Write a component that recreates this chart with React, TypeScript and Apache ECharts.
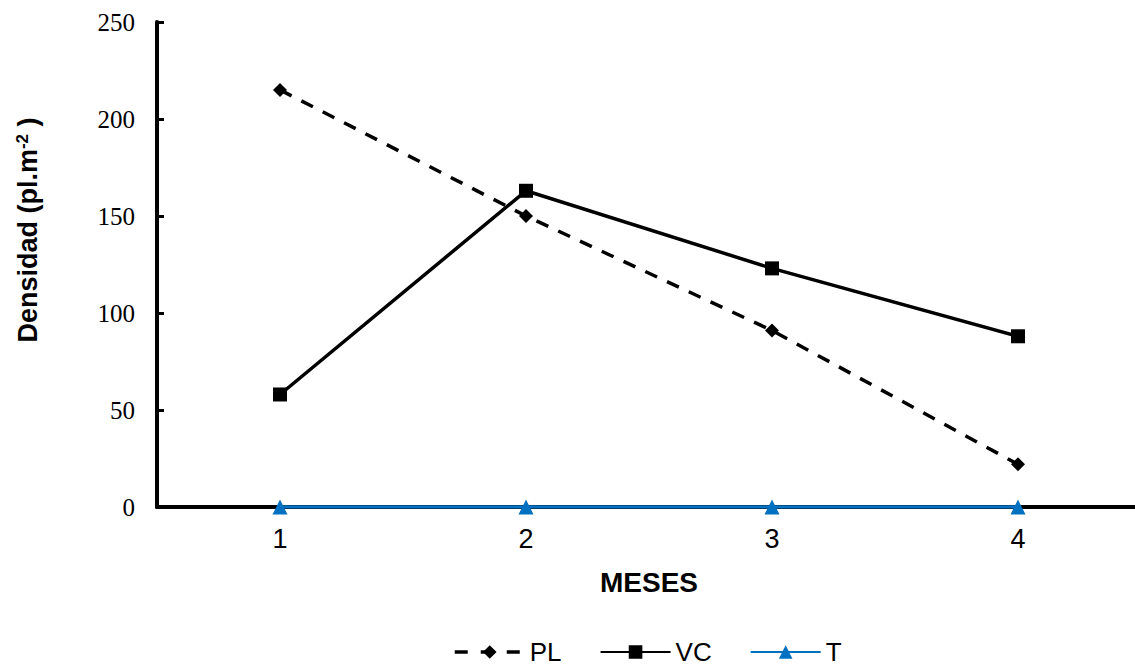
import React, { useEffect, useRef } from "react";
import * as echarts from "echarts";

const categories = ["1", "2", "3", "4"];
const plValues = [215, 150, 91, 22];
const vcValues = [58, 163, 123, 88];
const tValues = [0, 0, 0, 0];
const yTicks = { min: 0, max: 250, interval: 50 };

export default function App() {
  const ref = useRef<HTMLDivElement>(null);
  useEffect(() => {
    if (!ref.current) return;
    const chart = echarts.init(ref.current, null, { renderer: "svg" });
    chart.setOption({
      animation: false,
      backgroundColor: "#ffffff",
      grid: { left: 157, top: 22, bottom: 161, width: 984, containLabel: false, outerBoundsMode: "none" },
      legend: {
        top: 639,
        left: 453,
        padding: 0,
        itemWidth: 70,
        itemHeight: 17,
        itemGap: 38,
        textStyle: { fontFamily: "Liberation Sans, Arial", fontSize: 26, color: "#000" },
        data: [
          { name: "PL", lineStyle: { type: [13, 13], width: 3.5 } },
          { name: "VC" },
          { name: "T" },
        ],
      },
      graphic: [
        {
          type: "text",
          x: 28,
          y: 230,
          rotation: Math.PI / 2,
          style: {
            text: "{a|Densidad (pl.m}{s|-2}{a| )}",
            align: "center",
            verticalAlign: "middle",
            rich: {
              a: { fontFamily: "Liberation Sans, Arial", fontSize: 27, fontWeight: "bold", fill: "#000", color: "#000" },
              s: { fontFamily: "Liberation Sans, Arial", fontSize: 17, fontWeight: "bold", fill: "#000", color: "#000", verticalAlign: "top", padding: [0, 0, 12, 0] },
            },
          },
        },
      ],
      xAxis: {
        type: "category",
        data: categories,
        boundaryGap: true,
        name: "MESES",
        nameLocation: "middle",
        nameGap: 61,
        nameTextStyle: { fontFamily: "Liberation Sans, Arial", fontSize: 28, fontWeight: "bold", color: "#000" },
        axisLine: { lineStyle: { color: "#000", width: 4 } },
        axisTick: { inside: true, length: 8, lineStyle: { color: "#000", width: 3 } },
        axisLabel: { margin: 18, fontFamily: "Liberation Sans, Arial", fontSize: 27, color: "#000" },
        splitLine: { show: false },
      },
      yAxis: {
        type: "value",
        min: yTicks.min,
        max: yTicks.max,
        interval: yTicks.interval,
        axisLine: { show: true, lineStyle: { color: "#000", width: 4 } },
        axisTick: { show: true, inside: true, length: 7, lineStyle: { color: "#000", width: 3 } },
        axisLabel: { margin: 22, fontFamily: "Liberation Serif, Times New Roman", fontSize: 25, color: "#000" },
        splitLine: { show: false },
      },
      series: [
        {
          name: "PL",
          type: "line",
          data: plValues,
          symbol: "diamond",
          symbolSize: 14,
          itemStyle: { color: "#000" },
          lineStyle: { color: "#000", width: 3.5, type: [13, 11] },
          z: 3,
        },
        {
          name: "VC",
          type: "line",
          data: vcValues,
          symbol: "rect",
          symbolSize: 14,
          itemStyle: { color: "#000" },
          lineStyle: { color: "#000", width: 3.5, type: "solid" },
          z: 3,
        },
        {
          name: "T",
          type: "line",
          data: tValues,
          symbol: "triangle",
          symbolSize: 15,
          itemStyle: { color: "#0070C0" },
          lineStyle: { color: "#0070C0", width: 3.5 },
          z: 4,
        },
      ],
    });
    return () => chart.dispose();
  }, []);
  return <div ref={ref} style={{ width: 1135, height: 668, position: "absolute", left: 0, top: 0 }} />;
}
